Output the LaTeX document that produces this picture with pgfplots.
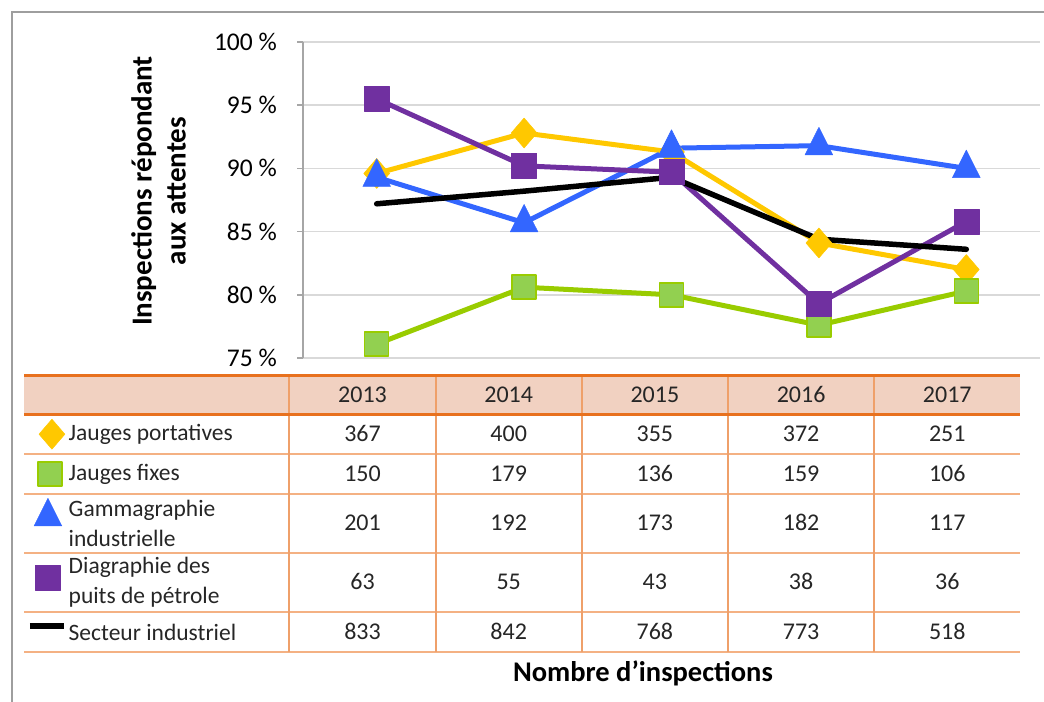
\documentclass[border=0pt]{standalone}
\usepackage{fontspec}
\setmainfont{Carlito}
\usepackage{pgfplots}
\pgfplotsset{compat=1.18}
\definecolor{cYel}{HTML}{FFC800}
\definecolor{cGrn}{HTML}{99CC00}
\definecolor{cGrnF}{HTML}{92D050}
\definecolor{cBlu}{HTML}{3366FF}
\definecolor{cPur}{HTML}{7030A0}
\definecolor{cHdr}{HTML}{F1D1C1}
\definecolor{cOrT}{HTML}{E8711E}
\definecolor{cOrL}{HTML}{F4B183}
\definecolor{cOrC}{HTML}{EFA06A}
\definecolor{cTxt}{HTML}{262626}
\definecolor{cGrid}{HTML}{D9D9D9}
\definecolor{cAx}{HTML}{A6A6A6}
\pgfplotsset{
  markleg/.style n args={2}{legend image code/.code={\path (0bp,0bp) (34bp,0bp); \draw[##1] plot[only marks] coordinates {(#1,#2)};}},
  lineleg/.style={legend image code/.code={\draw[##1, line cap=butt] (0bp,#1) -- (34bp,#1);}},
}
\begin{document}
\begin{tikzpicture}
\path[use as bounding box] (0,0) rectangle (1044bp,-702bp);
\draw[line width=1.5bp, color=black!38] (12bp,-702bp) -- (12bp,-12bp) -- (1044bp,-12bp);
\begin{axis}[
  at={(303bp,-358bp)}, anchor=south west,
  scale only axis, width=737bp, height=316bp,
  xmin=-0.5, xmax=4.5, ymin=75, ymax=100,
  clip=false,
  axis x line*=bottom, axis y line*=left,
  x axis line style={draw=none},
  y axis line style={draw=cAx, line width=1.5bp},
  xtick=\empty,
  ytick={75,80,85,90,95,100},
  yticklabels={75 \%,80 \%,85 \%,90 \%,95 \%,100 \%},
  ymajorgrids, grid style={draw=cGrid, line width=1.5bp},
  tick align=outside, major tick length=6bp,
  ytick style={draw=cAx, line width=1.5bp},
  yticklabel style={font=\fontsize{25.5bp}{30bp}\selectfont, text=black, anchor=east, inner sep=0pt, xshift=-20bp},
  ylabel={Inspections répondant\\aux attentes},
  ylabel style={at={(axis description cs:-0.1960,0.5285)}, anchor=center, align=center, font=\bfseries\fontsize{29bp}{34bp}\selectfont, text=black},
  xlabel={Nombre d’inspections},
  xlabel style={at={(axis description cs:0.4613,-0.9968)}, anchor=center, font=\bfseries\fontsize{28.5bp}{34bp}\selectfont, text=black},
  legend cell align=left,
  legend style={at={(-0.3745,-0.1772)}, anchor=north west, draw=none, fill=none, inner sep=0pt, row sep=0pt,
    font=\fontsize{23.5bp}{30bp}\selectfont, text=cTxt,
    nodes={inner sep=0pt, text depth=, text height=}, cells={anchor=west},
    /tikz/every odd column/.style={column sep=2bp}},
  every axis plot/.append style={line join=round, line cap=round},
]
\addplot[cYel, line width=5bp, mark=diamond*, mark size=15bp,
  mark options={solid, fill=cYel, draw=cYel, line width=0.5bp, xscale=1.15}, markleg={22bp}{0bp}]
  coordinates {(0,89.6) (1,92.8) (2,91.3) (3,84.1) (4,82.0)};
\addlegendentry{{\parbox[c][40bp][c]{215bp}{Jauges portatives}}}
\addplot[cGrn, line width=5bp, mark=square*, mark size=12bp,
  mark options={solid, fill=cGrnF, draw=cGrn, line width=1.5bp}, markleg={20bp}{0bp}]
  coordinates {(0,76.1) (1,80.6) (2,80.0) (3,77.6) (4,80.3)};
\addlegendentry{{\parbox[c][40bp][c]{215bp}{Jauges fixes}}}
\addplot[cBlu, line width=5bp, mark=triangle*, mark size=16bp,
  mark options={solid, fill=cBlu, draw=cBlu, line width=0.5bp, yscale=1.15}, markleg={18bp}{7bp}]
  coordinates {(0,89.3) (1,85.7) (2,91.6) (3,91.8) (4,90.0)};
\addlegendentry{{\parbox[c][59bp][c]{215bp}{Gammagraphie\\industrielle}}}
\addplot[cPur, line width=5bp, mark=square*, mark size=12.5bp,
  mark options={solid, fill=cPur, draw=cPur, line width=0.5bp}, markleg={18bp}{5bp}]
  coordinates {(0,95.5) (1,90.2) (2,89.7) (3,79.3) (4,85.8)};
\addlegendentry{{\parbox[c][59bp][c]{215bp}{Diagraphie des\\puits de pétrole}}}
\addplot[black, line width=5.5bp, no markers, lineleg={6bp}]
  coordinates {(0,87.2) (1,88.2) (2,89.3) (3,84.4) (4,83.6)};
\addlegendentry{{\parbox[c][40bp][c]{215bp}{Secteur industriel}}}
\end{axis}
\begin{scope}[x=1bp,y=-1bp]
\fill[cHdr] (24,375) rectangle (1020,414);
\foreach \yy in {454,494,553,612,652} \draw[cOrL, line width=2bp] (24,\yy) -- (1020,\yy);
\foreach \xx in {289,436,582,728,874} \draw[cOrC, line width=1.5bp] (\xx,375) -- (\xx,652);
\draw[cOrT, line width=3bp] (24,375) -- (1020,375);
\draw[cOrT, line width=3bp] (24,414) -- (1020,414);
\tikzset{tv/.style={font=\fontsize{24bp}{30bp}\selectfont, text=cTxt, inner sep=0pt, anchor=base}}
\foreach \v [count=\i from 0] in {2013,2014,2015,2016,2017} \node[tv] at ({362.5+146.2*\i},402.5) {\v};
\foreach \v [count=\i from 0] in {367,400,355,372,251} \node[tv] at ({362.5+146.2*\i},441.5) {\v};
\foreach \v [count=\i from 0] in {150,179,136,159,106} \node[tv] at ({362.5+146.2*\i},481) {\v};
\foreach \v [count=\i from 0] in {201,192,173,182,117} \node[tv] at ({362.5+146.2*\i},530.5) {\v};
\foreach \v [count=\i from 0] in {63,55,43,38,36} \node[tv] at ({362.5+146.2*\i},589.5) {\v};
\foreach \v [count=\i from 0] in {833,842,768,773,518} \node[tv] at ({362.5+146.2*\i},639) {\v};
\end{scope}
\end{tikzpicture}
\end{document}
